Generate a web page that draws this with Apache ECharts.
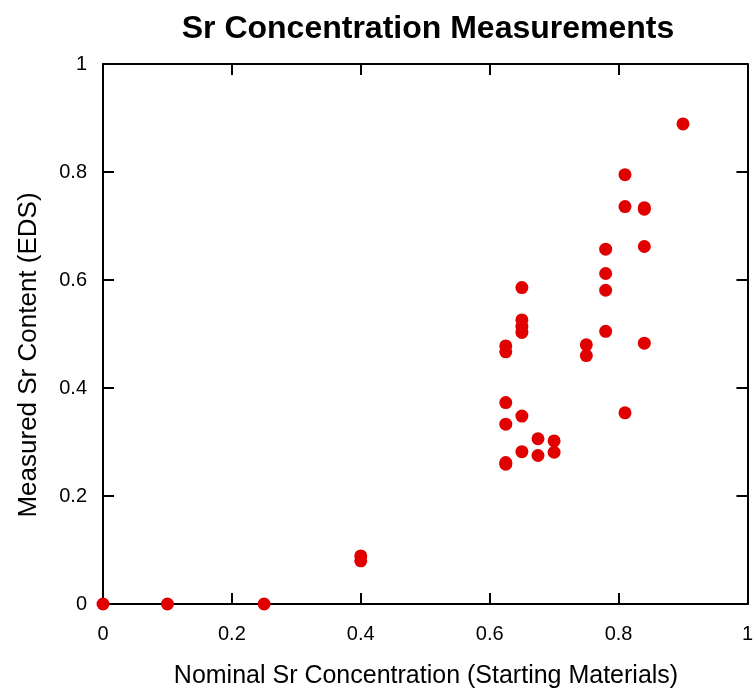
<!DOCTYPE html>
<html>
<head>
<meta charset="utf-8">
<script src="https://cdn.jsdelivr.net/npm/echarts@6/dist/echarts.min.js"></script>
<style>html,body{margin:0;padding:0;background:#fff;}#chart{width:756px;height:692px;}</style>
</head>
<body>
<div id="chart"></div>
<script>
const nominalSr = [0, 0.1, 0.25, 0.4, 0.4,
  0.625, 0.625, 0.625, 0.625, 0.625, 0.625,
  0.65, 0.65, 0.65, 0.65, 0.65, 0.65,
  0.675, 0.675, 0.7, 0.7, 0.75, 0.75,
  0.78, 0.78, 0.78, 0.78, 0.81, 0.81, 0.81,
  0.84, 0.84, 0.84, 0.84, 0.9];
const measuredSr = [0, 0, 0, 0.089, 0.080,
  0.478, 0.467, 0.373, 0.333, 0.262, 0.259,
  0.586, 0.526, 0.514, 0.503, 0.348, 0.282,
  0.306, 0.275, 0.302, 0.281, 0.480, 0.460,
  0.657, 0.612, 0.581, 0.505, 0.795, 0.736, 0.354,
  0.734, 0.731, 0.662, 0.483, 0.889];
const tickValues = [0, 0.2, 0.4, 0.6, 0.8, 1];
const chartTitle = 'Sr Concentration Measurements';
const xTitle = 'Nominal Sr Concentration (Starting Materials)';
const yTitle = 'Measured Sr Content (EDS)';

const points = nominalSr.map((x, i) => [x, measuredSr[i]]);
const font = 'Liberation Sans, Arial, sans-serif';
const lineStyle = {color: '#000', width: 2};
function axisBase(extra) {
  return Object.assign({
    type: 'value', min: tickValues[0], max: tickValues[tickValues.length - 1], interval: 0.2,
    axisLine: {show: true, onZero: false, lineStyle: lineStyle},
    axisTick: {show: true, inside: true, length: 11, lineStyle: lineStyle},
    splitLine: {show: false},
    axisLabel: {show: true, color: '#000', fontSize: 20, fontFamily: font}
  }, extra);
}
const chart = echarts.init(document.getElementById('chart'), null, {renderer: 'canvas'});
chart.setOption({
  backgroundColor: '#fff',
  animation: false,
  title: {
    text: chartTitle, left: 423, top: 8, textAlign: 'center',
    textStyle: {fontSize: 32, fontWeight: 'bold', color: '#000', fontFamily: font}
  },
  grid: {left: 103, right: 5, top: 64, bottom: 88, containLabel: false},
  graphic: [{
    type: 'text', rotation: Math.PI / 2, originX: 0, originY: 0,
    x: 29, y: 355,
    style: {text: yTitle, fontSize: 26, fill: '#000', fontFamily: font, align: 'center', verticalAlign: 'middle'}
  }, {
    type: 'text', x: 426, y: 676,
    style: {text: xTitle, fontSize: 25, fill: '#000', fontFamily: font, align: 'center', verticalAlign: 'middle'}
  }],
  xAxis: [
    axisBase({position: 'bottom',
      axisLabel: {show: true, color: '#000', fontSize: 20, fontFamily: font, margin: 20}}),
    axisBase({position: 'top', axisLabel: {show: false}})
  ],
  yAxis: [
    axisBase({position: 'left',
      axisLabel: {show: true, color: '#000', fontSize: 20, fontFamily: font, margin: 16}}),
    axisBase({position: 'right', axisLabel: {show: false}})
  ],
  series: [{
    type: 'scatter', xAxisIndex: 0, yAxisIndex: 0, data: points,
    symbol: 'circle', symbolSize: 13, clip: false,
    itemStyle: {color: '#e00000', opacity: 1}
  }]
});
</script>
</body>
</html>
